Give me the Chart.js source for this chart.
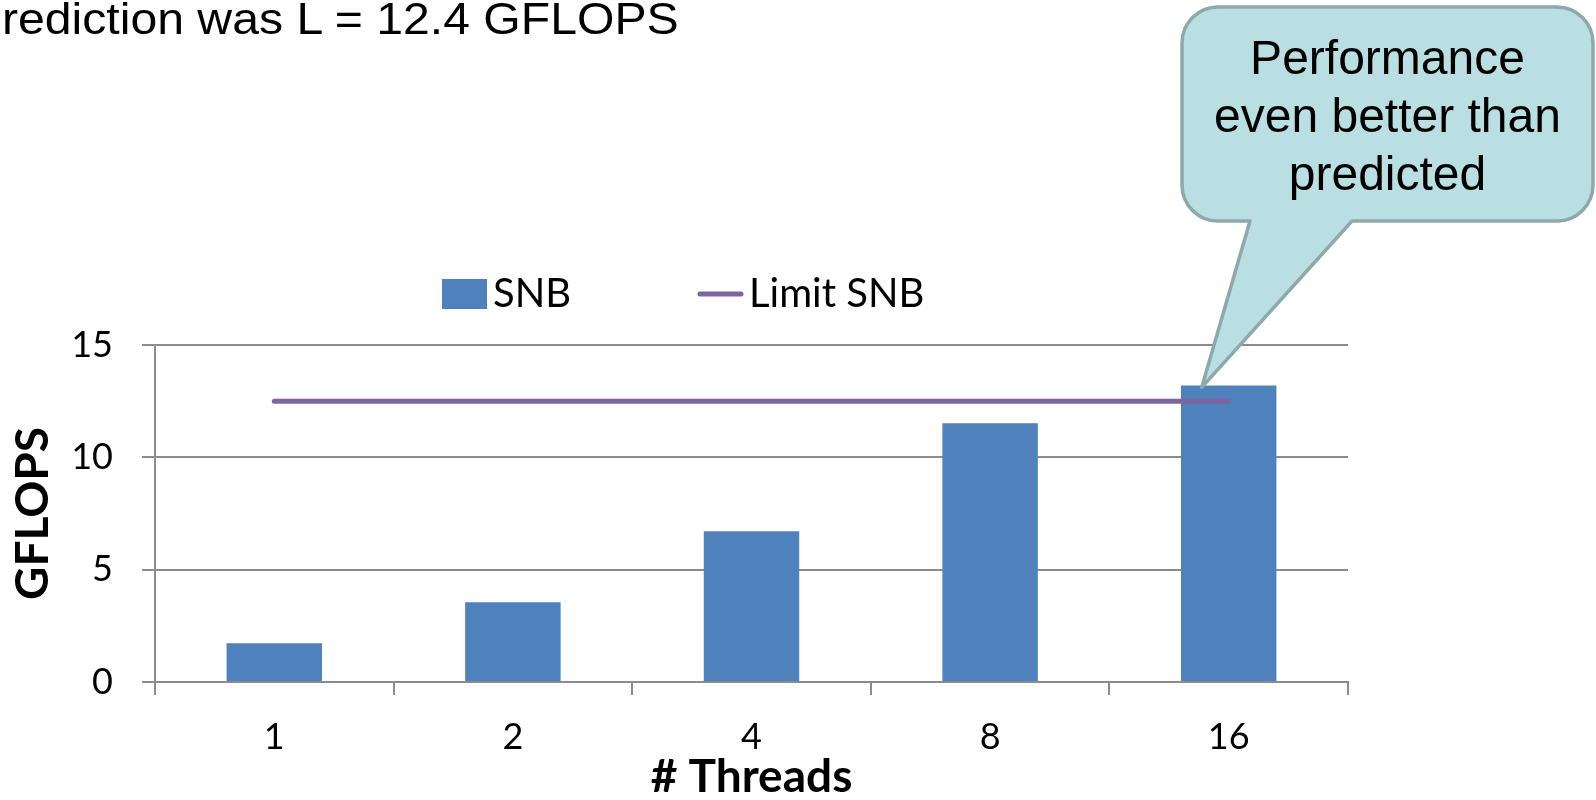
<!DOCTYPE html>
<html>
<head>
<meta charset="utf-8">
<script src="https://cdn.jsdelivr.net/npm/chart.js@4/dist/chart.umd.min.js"></script>
<style>
  html, body { margin: 0; padding: 0; background: #fff; }
  #wrap { position: relative; width: 1596px; height: 800px; overflow: hidden; }
  #chart { position: absolute; left: 0; top: 0; }
  .note { position: absolute; font-family: "Liberation Sans", Arial, sans-serif; color: #000; white-space: nowrap; }
  #heading { left: 2px; top: -4px; font-size: 45px; line-height: 1; transform: scaleX(1.07); transform-origin: left top; }
  #callout-text { left: 1182px; width: 411px; top: 29px; font-size: 48px; line-height: 58px; text-align: center; }
</style>
</head>
<body>
<div id="wrap">
  <canvas id="chart" width="1596" height="800"></canvas>
  <div class="note" id="heading">rediction was L = 12.4 GFLOPS</div>
  <div class="note" id="callout-text">Performance<br>even better than<br>predicted</div>
</div>
<script>
// values
const threads = ['1', '2', '4', '8', '16'];
const snb = [1.72, 3.55, 6.71, 11.52, 13.2];
const limitSnb = [12.5, 12.5, 12.5, 12.5, 12.5];
const yTicks = [0, 5, 10, 15];

const gridColor = '#8c8c8c';
const tickFont = { family: 'Lato', size: 36 };
const titleFont = { family: 'Lato', size: 46, weight: 'bold', lineHeight: 1 };

// legend drawn by hand so it can sit off-centre like the original
const legendRow = {
    id: 'legendRow',
    afterDraw(chart, args, opts) {
        const ctx = chart.ctx;
        ctx.save();
        ctx.font = opts.font;
        ctx.textBaseline = 'middle';
        chart.data.datasets.forEach((ds, i) => {
            const x = opts.starts[i];
            const y = opts.y;
            if (ds.type === 'line') {
                ctx.strokeStyle = ds.borderColor;
                ctx.lineWidth = ds.borderWidth;
                ctx.lineCap = 'round';
                ctx.beginPath();
                ctx.moveTo(x + 2, y);
                ctx.lineTo(x + opts.markWidth - 2, y);
                ctx.stroke();
            } else {
                ctx.fillStyle = ds.backgroundColor;
                ctx.fillRect(x, y - opts.boxHeight / 2, opts.markWidth, opts.boxHeight);
            }
            ctx.fillStyle = '#000';
            ctx.fillText(ds.label, x + opts.markWidth + opts.gap, y);
        });
        ctx.restore();
    }
};

// speech bubble pointing at the last bar
const callout = {
    id: 'callout',
    afterDraw(chart, args, o) {
        const { ctx, scales: { x, y } } = chart;
        const tipX = x.getPixelForValue(o.index) + o.tipDx;
        const tipY = y.getPixelForValue(snb[o.index]) + o.tipDy;
        const [l, t, r, b] = o.box;
        const rad = o.radius;
        ctx.save();
        ctx.beginPath();
        ctx.moveTo(l + rad, t);
        ctx.lineTo(r - rad, t);
        ctx.arcTo(r, t, r, t + rad, rad);
        ctx.lineTo(r, b - rad);
        ctx.arcTo(r, b, r - rad, b, rad);
        ctx.lineTo(o.tail[1], b);
        ctx.lineTo(tipX, tipY);
        ctx.lineTo(o.tail[0], b);
        ctx.lineTo(l + rad, b);
        ctx.arcTo(l, b, l, b - rad, rad);
        ctx.lineTo(l, t + rad);
        ctx.arcTo(l, t, l + rad, t, rad);
        ctx.closePath();
        ctx.fillStyle = o.fill;
        ctx.fill();
        ctx.lineJoin = 'round';
        ctx.lineWidth = o.lineWidth;
        ctx.strokeStyle = o.stroke;
        ctx.stroke();
        ctx.restore();
    }
};

new Chart(document.getElementById('chart'), {
    type: 'bar',
    data: {
        labels: threads,
        datasets: [{
            type: 'bar',
            label: 'SNB',
            data: snb,
            backgroundColor: '#4f81bd',
            barPercentage: 0.4,
            categoryPercentage: 1,
            order: 2
        }, {
            type: 'line',
            label: 'Limit SNB',
            data: limitSnb,
            borderColor: '#8064a2',
            borderWidth: 5,
            borderCapStyle: 'round',
            pointRadius: 0,
            order: 1
        }]
    },
    options: {
        responsive: false,
        animation: false,
        layout: { padding: { top: 345, right: 248, left: 0, bottom: 0 } },
        plugins: {
            legend: { display: false },
            tooltip: { enabled: false },
            legendRow: { font: '40px Lato', starts: [442, 698], y: 294, markWidth: 45, boxHeight: 30, gap: 6 },
            callout: {
                index: 4, tipDx: -27, tipDy: 2,
                box: [1182, 7, 1593, 221], radius: 36, tail: [1250, 1352],
                fill: '#b9dfe2', stroke: '#8da9ab', lineWidth: 3.5
            }
        },
        scales: {
            x: {
                grid: { drawOnChartArea: false, tickLength: 13, color: gridColor, lineWidth: 2 },
                border: { color: gridColor, width: 2 },
                ticks: { font: tickFont, color: '#000', padding: 21, maxRotation: 0 },
                title: { display: true, text: '# Threads', font: titleFont, color: '#000', padding: { top: 0, bottom: 0 } },
                afterFit: s => { s.height = 118; }
            },
            y: {
                min: 0,
                max: 15,
                afterBuildTicks: s => { s.ticks = yTicks.map(v => ({ value: v })); },
                grid: { color: gridColor, lineWidth: 2, tickLength: 13 },
                border: { color: gridColor, width: 2 },
                ticks: { font: tickFont, color: '#000', padding: 29 },
                title: { display: true, text: 'GFLOPS', font: titleFont, color: '#000', padding: { top: 10, bottom: 0 } },
                afterFit: s => { s.width = 155; }
            }
        }
    },
    plugins: [legendRow, callout]
});
</script>
</body>
</html>
